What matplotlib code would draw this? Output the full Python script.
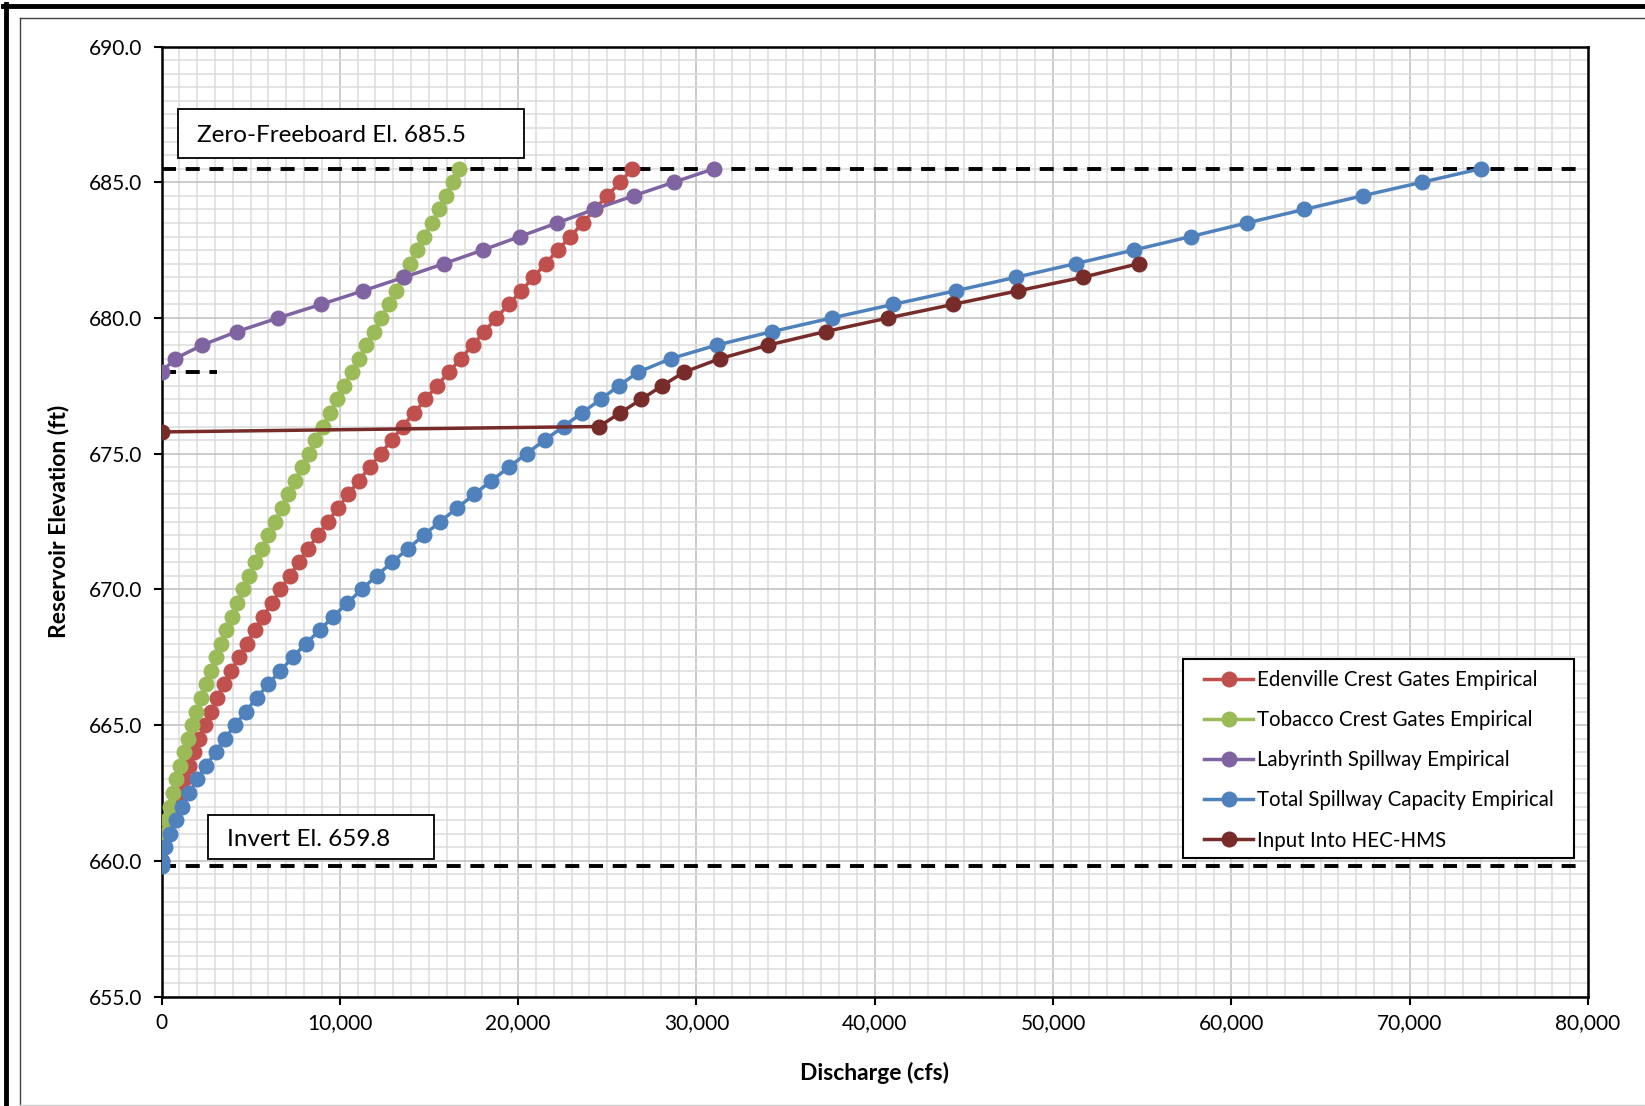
import matplotlib
matplotlib.use('Agg')
from matplotlib import pyplot as plt
from matplotlib.lines import Line2D
from matplotlib.patches import Rectangle
from matplotlib.ticker import MultipleLocator, FuncFormatter

plt.rcParams['font.family'] = ['Lato', 'DejaVu Sans']

# reservoir stage (ft), 0.5 ft steps used by the rating tables
stage = [660.0, 660.5, 661.0, 661.5, 662.0, 662.5, 663.0, 663.5, 664.0, 664.5,
         665.0, 665.5, 666.0, 666.5, 667.0, 667.5, 668.0, 668.5, 669.0, 669.5,
         670.0, 670.5, 671.0, 671.5, 672.0, 672.5, 673.0, 673.5, 674.0, 674.5,
         675.0, 675.5, 676.0, 676.5, 677.0, 677.5, 678.0, 678.5, 679.0, 679.5,
         680.0, 680.5, 681.0, 681.5, 682.0, 682.5, 683.0, 683.5, 684.0, 684.5,
         685.0, 685.5]

# Edenville crest gates (660.0 - 685.5)
eden_elev = stage
eden_q = [20, 120, 290, 500, 730, 990, 1270, 1530, 1810, 2110,
          2450, 2770, 3140, 3510, 3920, 4340, 4770, 5230, 5700, 6200,
          6670, 7190, 7700, 8220, 8780, 9340, 9900, 10470, 11060, 11680,
          12290, 12920, 13520, 14160, 14800, 15450, 16110, 16790, 17450, 18110,
          18780, 19480, 20180, 20860, 21540, 22230, 22930, 23630, 24300, 24990,
          25740, 26400]

# Tobacco crest gates (660.5 - 685.5)
tob_elev = stage[1:]
tob_q = [60, 190, 320, 470, 650, 840, 1050, 1250, 1500,
         1720, 1960, 2210, 2490, 2770, 3050, 3310, 3610, 3930, 4240,
         4580, 4920, 5270, 5630, 5980, 6360, 6730, 7100, 7480, 7870,
         8250, 8630, 9030, 9450, 9830, 10250, 10670, 11070, 11470, 11900,
         12320, 12740, 13140, 13540, 13940, 14340, 14740, 15150, 15550, 15930,
         16330, 16710]

# Labyrinth spillway (678.0 - 685.5)
lab_elev = stage[36:]
lab_q = [0, 760, 2290, 4250, 6540, 8950, 11310, 13600, 15850, 18010,
         20100, 22190, 24270, 26480, 28730, 31000]

# Total spillway capacity (659.8, then 660.0 - 685.5)
tot_elev = [659.8] + stage
tot_q = [0, 0, 220, 470, 790, 1160, 1570, 2000, 2490, 3030, 3550,
         4130, 4730, 5330, 5980, 6670, 7360, 8090, 8880, 9630, 10430,
         11230, 12060, 12930, 13830, 14710, 15640, 16580, 17530, 18500, 19480,
         20470, 21490, 22550, 23580, 24630, 25650, 26720, 28560, 31140, 34260,
         37600, 41040, 44540, 47930, 51260, 54520, 57730, 60880, 64100, 67360,
         70690, 74000]

# rating used in HEC-HMS
hms_elev = [675.8, 676.0, 676.5, 677.0, 677.5, 678.0, 678.5, 679.0, 679.5,
            680.0, 680.5, 681.0, 681.5, 682.0]
hms_q = [0, 24540, 25720, 26900, 28080, 29290, 31320, 34030, 37250,
         40760, 44400, 48040, 51690, 54800]

series = [
    ('Edenville Crest Gates Empirical', eden_q, eden_elev, '#C0504D'),
    ('Tobacco Crest Gates Empirical', tob_q, tob_elev, '#9BBB59'),
    ('Labyrinth Spillway Empirical', lab_q, lab_elev, '#8064A2'),
    ('Total Spillway Capacity Empirical', tot_q, tot_elev, '#4F81BD'),
    ('Input Into HEC-HMS', hms_q, hms_elev, '#772C2A'),
]

freeboard_el = 685.5
invert_el = 659.8
labyrinth_crest = 678.0

W, H = 1645, 1106
ax_l, ax_r, ax_t, ax_b = 161.5, 1588.0, 46.5, 996.5   # axes box in pixels
ax_w, ax_h = ax_r - ax_l, ax_b - ax_t
fig = plt.figure(figsize=(W / 100, H / 100), dpi=100)
ax = fig.add_axes([ax_l / W, 1 - ax_b / H, ax_w / W, ax_h / H])


def ax_frac(px, py):
    # pixel position (from top-left of figure) -> axes fraction
    return (px - ax_l) / ax_w, (ax_b - py) / ax_h


ax.set_xlim(0, 80000)
ax.set_ylim(655, 690)
ax.xaxis.set_major_locator(MultipleLocator(10000))
ax.xaxis.set_minor_locator(MultipleLocator(1000))
ax.yaxis.set_major_locator(MultipleLocator(5))
ax.yaxis.set_minor_locator(MultipleLocator(0.5))
ax.xaxis.set_major_formatter(FuncFormatter(lambda v, p: '{:,.0f}'.format(v)))
ax.yaxis.set_major_formatter(FuncFormatter(lambda v, p: '{:.1f}'.format(v)))
ax.grid(which='minor', color='#DCDCDC', linewidth=1.1)
ax.grid(which='major', color='#BFBFBF', linewidth=1.1)
ax.set_axisbelow(True)
ax.tick_params(which='major', direction='out', length=6, width=1.5,
               labelsize=15, pad=6)
ax.tick_params(axis='y', pad=8)
ax.tick_params(which='minor', length=0)
for sp in ax.spines.values():
    sp.set_linewidth(1.8)
    sp.set_color('black')

# reference elevations
dash_kw = dict(color='black', linewidth=2.8, dashes=(3.6, 2.5), zorder=2)
ax.plot([0, 79600], [freeboard_el, freeboard_el], **dash_kw)
ax.plot([0, 79600], [invert_el, invert_el], **dash_kw)
ax.plot([0, 3100], [labyrinth_crest, labyrinth_crest], **dash_kw)

for name, q, el, col in series:
    ax.plot(q, el, '-o', color=col, linewidth=2.5, markersize=10.5,
            label=name, zorder=3)

# text boxes
ax.add_patch(Rectangle((925, 685.88), 19430, 1.82, facecolor='white',
                       edgecolor='black', linewidth=1.3, zorder=4))
ax.text(1990, 686.72, 'Zero-Freeboard El. 685.5', fontsize=17.5,
        va='center', ha='left', zorder=5)
ax.add_patch(Rectangle((2590, 660.06), 12710, 1.62, facecolor='white',
                       edgecolor='black', linewidth=1.3, zorder=4))
ax.text(3650, 660.8, 'Invert El. 659.8', fontsize=17.5,
        va='center', ha='left', zorder=5)

# legend frame drawn separately so the padding matches
lx0, ly0 = ax_frac(1183, 858)
lx1, ly1 = ax_frac(1574, 659)
ax.add_patch(Rectangle((lx0, ly0), lx1 - lx0, ly1 - ly0, transform=ax.transAxes,
                       facecolor='white', edgecolor='black', linewidth=1.5,
                       zorder=4))
leg = ax.legend(loc='upper left', bbox_to_anchor=ax_frac(1204, 670),
                fontsize=14.8, frameon=False, borderpad=0,
                labelspacing=0.98, handlelength=2.4, handletextpad=0.2,
                borderaxespad=0)
leg.set_zorder(5)

ax.set_xlabel('Discharge (cfs)', fontsize=16.5, fontweight='bold')
ax.set_ylabel('Reservoir Elevation (ft)', fontsize=16.5, fontweight='bold')
ax.xaxis.set_label_coords(0.5, -(1061.5 - ax_b) / ax_h)
ax.yaxis.set_label_coords(-(ax_l - 69) / ax_w, 0.5)

# outer chart frame (thick) and chart area border (thin)
fig.add_artist(Line2D([3 / W, 1], [1 - 6 / H, 1 - 6 / H], color='black', linewidth=3.5))
fig.add_artist(Line2D([5.5 / W, 5.5 / W], [0, 1 - 4 / H], color='black', linewidth=3.5))
fig.add_artist(Line2D([20 / W, 1], [1 - 17.5 / H, 1 - 17.5 / H], color='#404040', linewidth=1.0))
fig.add_artist(Line2D([20 / W, 20 / W], [0, 1 - 17.5 / H], color='#404040', linewidth=1.0))
fig.add_artist(Line2D([20 / W, 1], [1.5 / H, 1.5 / H], color='#D0D0D0', linewidth=1.0))

fig.savefig('out.png', dpi=100)
